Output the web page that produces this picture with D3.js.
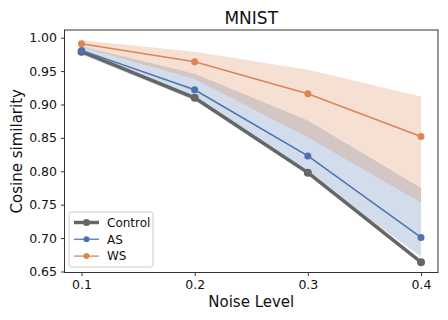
<!DOCTYPE html>
<html>
<head>
<meta charset="utf-8">
<script src="https://cdn.jsdelivr.net/npm/d3@7"></script>
<style>
  body { margin: 0; background: #fff; }
  svg { display: block; font-family: "DejaVu Sans", sans-serif; }
</style>
</head>
<body>
<svg id="chart" width="448" height="320"></svg>
<script>
const noiseLevels = [0.1, 0.2, 0.3, 0.4];
const controlMean = [0.979, 0.910, 0.798, 0.664];
const asMean = [0.981, 0.922, 0.823, 0.701];
const asLower = [0.975, 0.906, 0.795, 0.672];
const asUpper = [0.987, 0.946, 0.876, 0.775];
const wsMean = [0.991, 0.964, 0.916, 0.852];
const wsLower = [0.986, 0.938, 0.851, 0.753];
const wsUpper = [0.996, 0.979, 0.952, 0.912];
const yTicks = [0.65, 0.70, 0.75, 0.80, 0.85, 0.90, 0.95, 1.00];

const svg = d3.select("#chart");
const margin = { top: 30, right: 10, bottom: 47.5, left: 64.5 };
const width = 448 - margin.left - margin.right;
const height = 320 - margin.top - margin.bottom;

const x = d3.scaleLinear().domain([0.085, 0.415]).range([0, width]);
const y = d3.scaleLinear().domain([0.6485, 1.0115]).range([height, 0]);

const g = svg.append("g").attr("transform", `translate(${margin.left},${margin.top})`);

const series = [
  { name: "Control", mean: controlMean, color: "#666666", width: 3.5, r: 4 },
  { name: "AS", mean: asMean, lower: asLower, upper: asUpper, color: "#4c72b0", width: 1.5, r: 3.5 },
  { name: "WS", mean: wsMean, lower: wsLower, upper: wsUpper, color: "#dd8452", width: 1.5, r: 3.5 }
];

const area = d3.area()
  .x((d) => x(d.x))
  .y0((d) => y(d.lo))
  .y1((d) => y(d.hi));

series.filter((s) => s.lower).forEach((s) => {
  const pts = noiseLevels.map((v, i) => ({ x: v, lo: s.lower[i], hi: s.upper[i] }));
  g.append("path")
    .datum(pts)
    .attr("d", area)
    .attr("fill", s.color)
    .attr("fill-opacity", 0.25);
});

const line = d3.line()
  .x((d) => x(d[0]))
  .y((d) => y(d[1]));

series.forEach((s) => {
  const pts = noiseLevels.map((v, i) => [v, s.mean[i]]);
  g.append("path")
    .datum(pts)
    .attr("d", line)
    .attr("fill", "none")
    .attr("stroke", s.color)
    .attr("stroke-width", s.width);
  g.selectAll(null)
    .data(pts)
    .join("circle")
    .attr("cx", (d) => x(d[0]))
    .attr("cy", (d) => y(d[1]))
    .attr("r", s.r)
    .attr("fill", s.color);
});

// axes
const xAxis = g.append("g")
  .attr("transform", `translate(0,${height})`)
  .call(d3.axisBottom(x).tickValues(noiseLevels).tickFormat(d3.format(".1f")).tickSizeOuter(0).tickSize(3.5).tickPadding(4));
const yAxis = g.append("g")
  .call(d3.axisLeft(y).tickValues(yTicks).tickFormat(d3.format(".2f")).tickSizeOuter(0).tickSize(3.5).tickPadding(4));

[xAxis, yAxis].forEach((a) => {
  a.select(".domain").remove();
  a.selectAll(".tick line").attr("stroke", "#333");
  a.selectAll(".tick text").attr("font-size", 12.5).attr("fill", "#111").attr("font-family", "DejaVu Sans");
});

g.append("rect")
  .attr("width", width)
  .attr("height", height)
  .attr("fill", "none")
  .attr("stroke", "#333")
  .attr("stroke-width", 1);

// labels
svg.append("text")
  .attr("x", margin.left + width / 2)
  .attr("y", 24)
  .attr("text-anchor", "middle")
  .attr("font-size", 17)
  .attr("fill", "#111")
  .text("MNIST");

svg.append("text")
  .attr("x", margin.left + width / 2)
  .attr("y", 307)
  .attr("text-anchor", "middle")
  .attr("font-size", 15)
  .attr("fill", "#111")
  .text("Noise Level");

svg.append("text")
  .attr("transform", `translate(22,${margin.top + height / 2}) rotate(-90)`)
  .attr("text-anchor", "middle")
  .attr("font-size", 15)
  .attr("fill", "#111")
  .text("Cosine similarity");

// legend
const legend = svg.append("g").attr("transform", "translate(69,212)");
legend.append("rect")
  .attr("width", 84)
  .attr("height", 55)
  .attr("rx", 2.5)
  .attr("fill", "#fff")
  .attr("fill-opacity", 0.8)
  .attr("stroke", "#ccc");

series.forEach((s, i) => {
  const ly = 10.5 + i * 16.8;
  legend.append("line")
    .attr("x1", 5).attr("x2", 30)
    .attr("y1", ly).attr("y2", ly)
    .attr("stroke", s.color)
    .attr("stroke-width", s.width)
    .attr("stroke-opacity", i ? 0.85 : 1);
  legend.append("circle")
    .attr("cx", 17.5).attr("cy", ly).attr("r", s.r - 0.5)
    .attr("fill", s.color);
  legend.append("text")
    .attr("x", 38).attr("y", ly)
    .attr("dy", "0.35em")
    .attr("font-size", 12)
    .attr("fill", "#111")
    .text(s.name);
});
</script>
</body>
</html>
